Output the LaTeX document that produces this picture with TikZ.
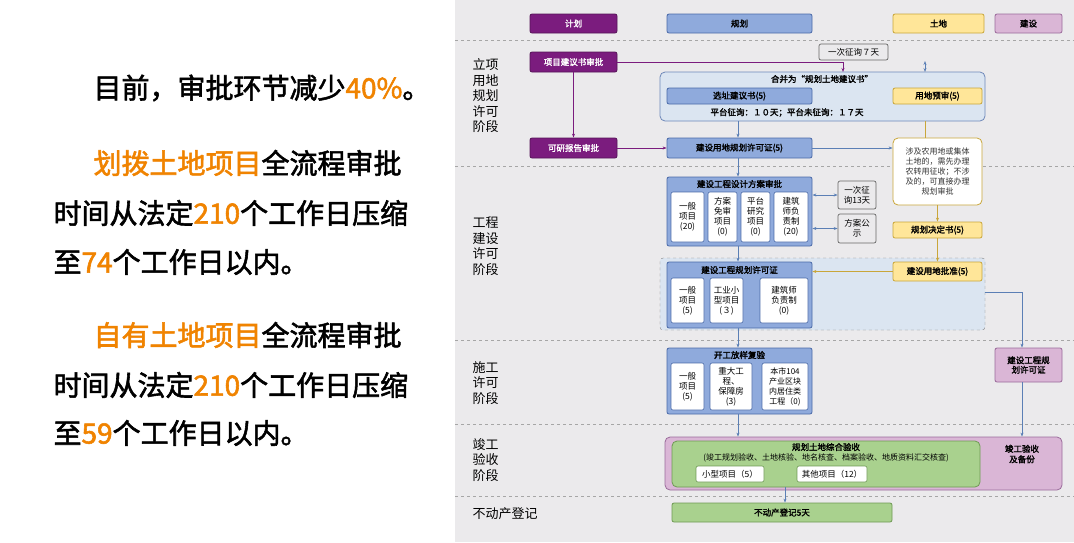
\documentclass[tikz,border=0pt]{standalone}
\usepackage{fontspec}
\setmainfont{Noto Sans CJK SC}[BoldFont={Noto Sans CJK SC},BoldFeatures={FakeBold=2}]
\usetikzlibrary{arrows.meta}
\definecolor{pur}{HTML}{7B1C7E}
\definecolor{blu}{HTML}{8FAADC}
\definecolor{bluD}{HTML}{4A6AA8}
\definecolor{bluL}{HTML}{DBE5F1}
\definecolor{yel}{HTML}{FFE699}
\definecolor{yelD}{HTML}{C9A63A}
\definecolor{pnk}{HTML}{DAB6D6}
\definecolor{pnkD}{HTML}{9B6B9B}
\definecolor{grn}{HTML}{A9D18E}
\definecolor{grnD}{HTML}{6F9A55}
\definecolor{bg}{HTML}{EBEAEC}
\definecolor{org}{HTML}{F08300}
\definecolor{arr}{HTML}{5B7FB5}
\begin{document}
\begin{tikzpicture}[x=1pt,y=-1pt,
 bx/.style={rounded corners=2pt,line width=0.8pt,inner sep=0pt,font=\fontsize{8.5}{9.5}\selectfont\bfseries},
 pbox/.style={bx,fill=pur,draw=pur!70!black,text=white},
 bbox/.style={bx,fill=blu,draw=bluD},
 ybox/.style={bx,fill=yel,draw=yelD},
 kbox/.style={bx,fill=pnk,draw=pnkD},
 gbox/.style={bx,fill=grn,draw=grnD},
 wbox/.style={rounded corners=2pt,fill=white,draw=bluD,line width=0.6pt,inner sep=0pt,align=center,font=\fontsize{8.5}{10}\selectfont},
 gray/.style={rounded corners=2pt,fill=bg,draw=gray!80!black,line width=0.7pt,inner sep=0pt,align=center,font=\fontsize{8.5}{10}\selectfont},
 big/.style={font=\fontsize{28}{32}\selectfont\bfseries,anchor=west},
 ph/.style={font=\fontsize{13}{15.5}\selectfont,align=left,anchor=west},
 dl/.style={dashed,gray!70,line width=0.8pt},
 ar/.style={-{Stealth[length=4pt]},arr,line width=0.8pt},
 pa/.style={-{Stealth[length=4pt]},pur,line width=0.8pt},
 ya/.style={-{Stealth[length=4pt]},yelD,line width=0.8pt},
 da/.style={{Stealth[length=4pt]}-{Stealth[length=4pt]},arr,line width=0.8pt}]
\useasboundingbox (0,0) rectangle (1074,542);
\fill[white] (0,0) rectangle (455,542);
\fill[bg] (455,0) rectangle (1074,542);
% left text
\node[big] (t1) at (90,88) {目前，审批环节减少\textcolor{org}{40\%}。};
\node[big] (t2) at (90,163) {\textcolor{org}{划拨土地项目}全流程审批};
\node[big] (t3) at (50,213) {时间从法定\textcolor{org}{210}个工作日压缩};
\node[big] (t4) at (50,262) {至\textcolor{org}{74}个工作日以内。};
\node[big] (t5) at (90,335) {\textcolor{org}{自有土地项目}全流程审批};
\node[big] (t6) at (50,385) {时间从法定\textcolor{org}{210}个工作日压缩};
\node[big] (t7) at (50,433) {至\textcolor{org}{59}个工作日以内。};
% dashed separators
\foreach \yy in {40,166,340,424,496} \draw[dl] (455,\yy) -- (1074,\yy);
% phase labels
\node[ph] (p1) at (469,96) {立项\\用地\\规划\\许可\\阶段};
\node[ph] (p2) at (469,246) {工程\\建设\\许可\\阶段};
\node[ph] (p3) at (469,383) {施工\\许可\\阶段};
\node[ph] (p4) at (469,460) {竣工\\验收\\阶段};
\node[ph] (p5) at (469,514) {不动产登记};
% headers
\node[pbox,minimum width=87pt,minimum height=19pt] (h1) at (573.5,23.5) {计划};
\node[bbox,minimum width=145pt,minimum height=19pt] (h2) at (739.5,23.5) {规划};
\node[ybox,minimum width=91pt,minimum height=19pt] (h3) at (938.5,23.5) {土地};
\node[kbox,minimum width=67pt,minimum height=19pt] (h4) at (1028.5,23.5) {建设};
% stage 1
\node[pbox,minimum width=87pt,minimum height=20pt] (xm) at (573.5,62) {项目建议书审批};
\node[pbox,minimum width=87pt,minimum height=20pt] (ky) at (573.5,148) {可研报告审批};
\node[gray,minimum width=69pt,minimum height=16pt] (zx7) at (853.5,52) {一次征询７天};
\node[bx,fill=bluL,draw=bluD!80,rounded corners=5pt,minimum width=325pt,minimum height=49pt] (hb) at (822.5,96.5) {};
\node[font=\fontsize{8.5}{9}\selectfont\bfseries] (hbt) at (822,79) {合并为“规划土地建议书”};
\node[bbox,minimum width=145pt,minimum height=16pt] (xz) at (739.5,96) {选址建议书(5)};
\node[ybox,minimum width=89pt,minimum height=16pt] (yd) at (937.5,96) {用地预审(5)};
\node[font=\fontsize{8.5}{9}\selectfont\bfseries] (ptz) at (787,112.5) {平台征询：１０天；平台未征询：１７天};
\node[bbox,minimum width=145pt,minimum height=20pt] (jy) at (739.5,148) {建设用地规划许可证(5)};
\node[rounded corners=5pt,fill=white,draw=yelD,line width=0.8pt,minimum width=89pt,minimum height=67pt,inner sep=0pt,align=center,font=\fontsize{8}{10}\selectfont,text=gray!40!black] (note) at (937.5,171.5) {涉及农用地或集体\\土地的，需先办理\\农转用征收；不涉\\及的，可直接办理\\规划审批};
% stage 2
\node[bbox,minimum width=145pt,minimum height=69pt] (sj) at (739.5,211.5) {};
\node[font=\fontsize{8.5}{9}\selectfont\bfseries] (sjt) at (739.5,184) {建设工程设计方案审批};
\node[wbox,minimum width=33pt,minimum height=50pt] (s1) at (687.5,217) {一般\\项目\\(20)};
\node[wbox,minimum width=29pt,minimum height=50pt] (s2) at (722.5,217) {方案\\免审\\项目\\(0)};
\node[wbox,minimum width=29pt,minimum height=50pt] (s3) at (755.5,217) {平台\\研究\\项目\\(0)};
\node[wbox,minimum width=34pt,minimum height=50pt] (s4) at (791,217) {建筑\\师负\\责制\\(20)};
\node[gray,minimum width=38pt,minimum height=28pt] (zx13) at (857,195) {一次征\\询13天};
\node[gray,minimum width=38pt,minimum height=29pt] (gs) at (857,228.5) {方案公\\示};
\node[ybox,minimum width=89pt,minimum height=16pt] (jd) at (937.5,230) {规划决定书(5)};
\node[fill=bluL,draw=gray,dashed,rounded corners=3pt,minimum width=325pt,minimum height=72pt,inner sep=0pt] (reg) at (822.5,294) {};
\node[ybox,minimum width=89pt,minimum height=19pt] (pz) at (937.5,271.5) {建设用地批准(5)};
\node[bbox,minimum width=145pt,minimum height=66pt] (gh) at (739.5,295) {};
\node[font=\fontsize{8.5}{9}\selectfont\bfseries] (ght) at (739.5,270) {建设工程规划许可证};
\node[wbox,minimum width=33pt,minimum height=45pt] (g1) at (687.5,300.5) {一般\\项目\\(5)};
\node[wbox,minimum width=33pt,minimum height=45pt] (g2) at (726.5,300.5) {工业小\\型项目\\(３)};
\node[wbox,minimum width=48pt,minimum height=45pt] (g3) at (784,300.5) {建筑师\\负责制\\(0)};
% stage 3
\node[bbox,minimum width=145pt,minimum height=66pt] (kg) at (739.5,381) {};
\node[font=\fontsize{8.5}{9}\selectfont\bfseries] (kgt) at (739.5,355) {开工放样复验};
\node[wbox,minimum width=33pt,minimum height=47pt] (k1) at (687.5,386.5) {一般\\项目\\(5)};
\node[wbox,minimum width=42pt,minimum height=47pt] (k2) at (731,386.5) {重大工\\程、\\保障房\\(3)};
\node[wbox,minimum width=46pt,minimum height=47pt,font=\fontsize{8}{10}\selectfont] (k3) at (785,386.5) {本市104\\产业区块\\内居住类\\工程（0)};
\node[kbox,minimum width=67pt,minimum height=34pt,align=center] (pg) at (1028.5,365) {建设工程规\\划许可证};
% stage 4
\node[bx,fill=pnk,draw=pnkD,rounded corners=5pt,minimum width=397pt,minimum height=53pt] (jg) at (863.5,463.5) {};
\node[gbox,rounded corners=5pt,minimum width=308pt,minimum height=46pt] (zh) at (826,464) {};
\node[font=\fontsize{8.5}{9}\selectfont\bfseries] (zht) at (826,447) {规划土地综合验收};
\node[font=\fontsize{8}{9}\selectfont] (zhs) at (826,458) {(竣工规划验收、土地核验、地名核查、档案验收、地质资料汇交核查)};
\node[wbox,draw=grnD,minimum width=68pt,minimum height=16pt] (xx) at (730,474) {小型项目（5）};
\node[wbox,draw=grnD,minimum width=70pt,minimum height=16pt] (qt) at (832,474) {其他项目（12）};
\node[font=\fontsize{8.5}{10.5}\selectfont\bfseries,align=center] (ba) at (1022,454) {竣工验收\\及备份};
% stage 5
\node[gbox,minimum width=220pt,minimum height=19pt] (bdc) at (782,512.5) {不动产登记5天};
% arrows
\draw[pa] (xm.east) -- (843,62) -- (843,72);
\draw[pa] (xm.south) -- (ky.north);
\draw[pa] (ky.east) -- (jy.west);
\draw[da] (925,61) -- (925,72);
\draw[ar] (738,121) -- (jy.north -| 738,0);
\draw[ar] (jy.east) -- (note.west |- jy.east);
\draw[yelD,line width=0.8pt] (925,121) -- (925,138);
\draw[ya] (note.south) -- (jd.north);
\draw[ya] (jd.south) -- (pz.north);
\draw[ya] (pz.west) -- (gh.east |- pz.west);
\draw[ar] (jy.south -| 738,0) -- (sj.north -| 738,0);
\draw[da] (sj.east |- zx13.west) -- (zx13.west);
\draw[da] (sj.east |- gs.west) -- (gs.west);
\draw[ar] (sj.south -| 738,0) -- (gh.north -| 738,0);
\draw[ar] (gh.south -| 738,0) -- (kg.north -| 738,0);
\draw[arr,line width=0.8pt,-{Stealth[length=4pt]}] (985,292) -- (1022,292) -- (pg.north -| 1022,0);
\draw[ar] (pg.south -| 1022,0) -- (jg.north -| 1022,0);
\draw[ar] (kg.south -| 738,0) -- (jg.north -| 738,0);
\draw[ar] (zh.south -| 785,0) -- (bdc.north -| 785,0);
\end{tikzpicture}
\end{document}
